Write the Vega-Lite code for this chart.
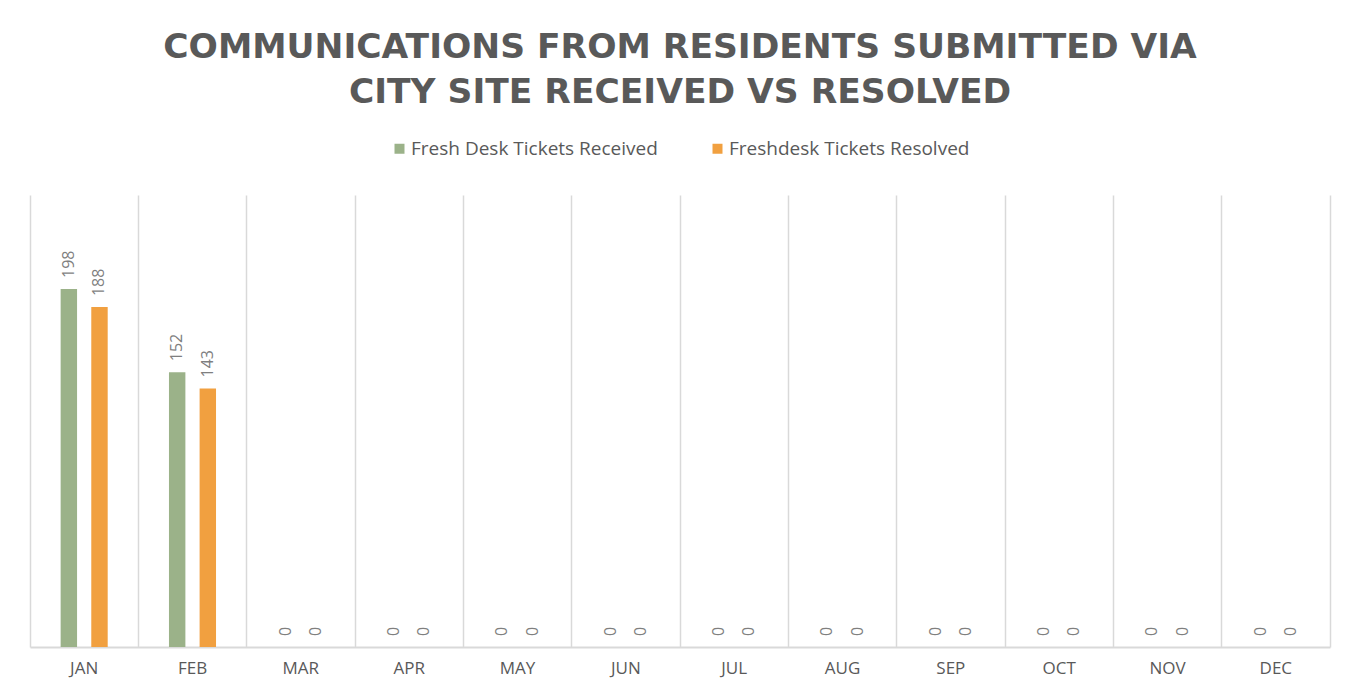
{
  "$schema": "https://vega.github.io/schema/vega-lite/v6.json",
  "width": 1300,
  "height": 452,
  "autosize": {"type": "none"},
  "padding": {"left": 30, "top": 195, "right": 28, "bottom": 48},
  "background": "white",
  "config": {
    "view": {"stroke": null},
    "font": "Open Sans"
  },
  "title": {
    "text": ["COMMUNICATIONS FROM RESIDENTS SUBMITTED VIA", "CITY SITE RECEIVED VS RESOLVED"],
    "anchor": "middle",
    "frame": "group",
    "font": "DejaVu Sans",
    "fontSize": 34.5,
    "fontWeight": "bold",
    "color": "#595959",
    "lineHeight": 45,
    "offset": 29
  },
  "data": {
    "values": [
      {"month": "JAN", "series": "Fresh Desk Tickets Received", "value": 198},
      {"month": "JAN", "series": "Freshdesk Tickets Resolved", "value": 188},
      {"month": "FEB", "series": "Fresh Desk Tickets Received", "value": 152},
      {"month": "FEB", "series": "Freshdesk Tickets Resolved", "value": 143},
      {"month": "MAR", "series": "Fresh Desk Tickets Received", "value": 0},
      {"month": "MAR", "series": "Freshdesk Tickets Resolved", "value": 0},
      {"month": "APR", "series": "Fresh Desk Tickets Received", "value": 0},
      {"month": "APR", "series": "Freshdesk Tickets Resolved", "value": 0},
      {"month": "MAY", "series": "Fresh Desk Tickets Received", "value": 0},
      {"month": "MAY", "series": "Freshdesk Tickets Resolved", "value": 0},
      {"month": "JUN", "series": "Fresh Desk Tickets Received", "value": 0},
      {"month": "JUN", "series": "Freshdesk Tickets Resolved", "value": 0},
      {"month": "JUL", "series": "Fresh Desk Tickets Received", "value": 0},
      {"month": "JUL", "series": "Freshdesk Tickets Resolved", "value": 0},
      {"month": "AUG", "series": "Fresh Desk Tickets Received", "value": 0},
      {"month": "AUG", "series": "Freshdesk Tickets Resolved", "value": 0},
      {"month": "SEP", "series": "Fresh Desk Tickets Received", "value": 0},
      {"month": "SEP", "series": "Freshdesk Tickets Resolved", "value": 0},
      {"month": "OCT", "series": "Fresh Desk Tickets Received", "value": 0},
      {"month": "OCT", "series": "Freshdesk Tickets Resolved", "value": 0},
      {"month": "NOV", "series": "Fresh Desk Tickets Received", "value": 0},
      {"month": "NOV", "series": "Freshdesk Tickets Resolved", "value": 0},
      {"month": "DEC", "series": "Fresh Desk Tickets Received", "value": 0},
      {"month": "DEC", "series": "Freshdesk Tickets Resolved", "value": 0}
    ]
  },
  "encoding": {
    "x": {
      "field": "month",
      "type": "nominal",
      "sort": null,
      "scale": {"paddingInner": 0, "paddingOuter": 0},
      "axis": {
        "title": null,
        "labelAngle": 0,
        "labelFont": "Open Sans",
        "labelFontSize": 17,
        "labelColor": "#595959",
        "labelPadding": 13,
        "ticks": false,
        "domainColor": "#d9d9d9",
        "domainWidth": 2,
        "grid": true,
        "gridColor": "#d9d9d9",
        "gridWidth": 1.5,
        "bandPosition": 0
      }
    },
    "xOffset": {
      "field": "series",
      "type": "nominal",
      "scale": {"paddingInner": 0.464, "paddingOuter": 1.167}
    },
    "y": {
      "field": "value",
      "type": "quantitative",
      "scale": {"domain": [0, 250], "nice": false},
      "axis": {
        "orient": "right",
        "title": null,
        "labels": false,
        "ticks": false,
        "grid": false,
        "domain": true,
        "domainColor": "#d9d9d9",
        "domainWidth": 1.5
      }
    }
  },
  "layer": [
    {
      "mark": {"type": "bar"},
      "encoding": {
        "color": {
          "field": "series",
          "type": "nominal",
          "scale": {"range": ["#9BB289", "#F1A040"]},
          "legend": {
            "title": null,
            "orient": "none",
            "direction": "horizontal",
            "legendX": 360,
            "legendY": -56,
            "symbolType": "square",
            "symbolSize": 100,
            "symbolStrokeWidth": 0,
            "labelFont": "Open Sans",
            "labelFontSize": 19,
            "labelColor": "#595959",
            "labelOffset": 2,
            "columnPadding": 50,
            "labelLimit": 400
          }
        }
      }
    },
    {
      "mark": {
        "type": "text",
        "angle": 270,
        "align": "left",
        "baseline": "middle",
        "dx": 11,
        "font": "Open Sans",
        "fontSize": 16,
        "color": "#7f7f7f"
      },
      "encoding": {
        "text": {"field": "value", "type": "quantitative"}
      }
    }
  ]
}
